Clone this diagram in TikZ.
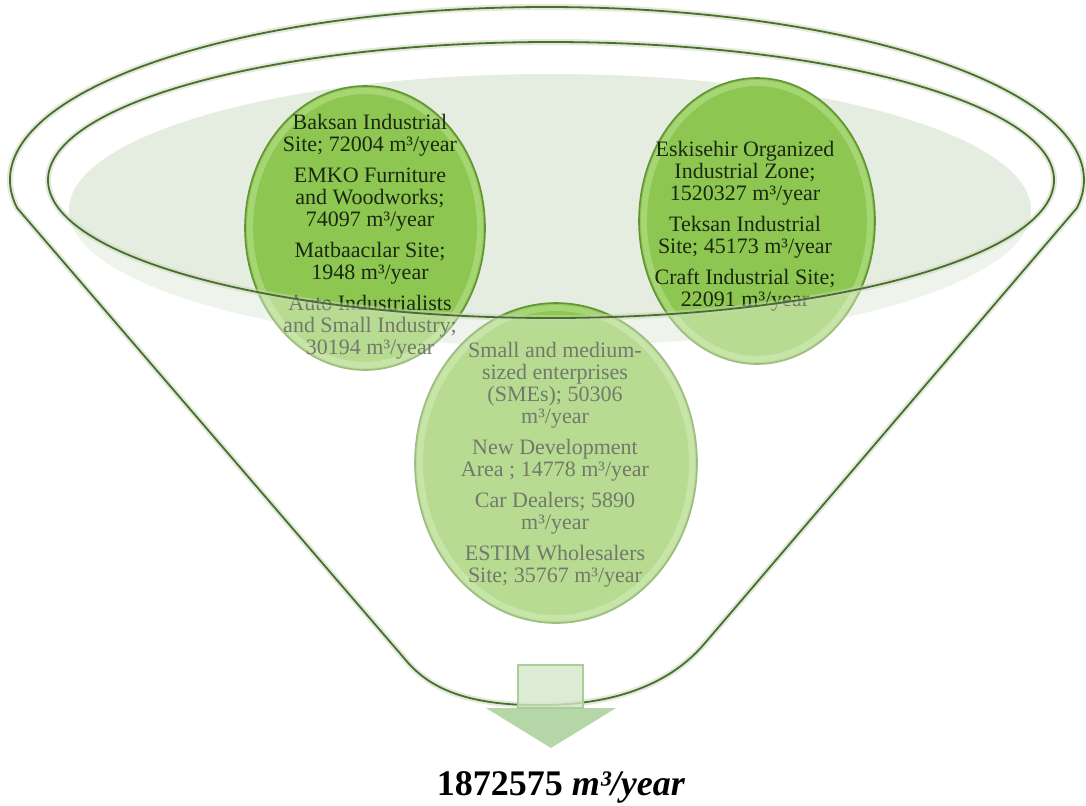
\documentclass[tikz,border=0pt]{standalone}
\usepackage{xcolor}
\usepackage{fontspec}
\usepackage{tikz}
\setmainfont{Liberation Serif}
\usetikzlibrary{shapes.geometric}
\definecolor{circfill}{RGB}{141,198,80}
\definecolor{circrim}{RGB}{178,222,130}
\definecolor{circedge}{RGB}{96,148,52}
\definecolor{shadefill}{RGB}{229,237,224}
\definecolor{funnelline}{RGB}{72,112,40}
\definecolor{txtdark}{RGB}{28,40,18}
\definecolor{shaftfill}{RGB}{212,230,200}
\definecolor{headfill}{RGB}{168,207,150}
\newcommand{\funnelpath}{(547,180) ++(189.3:268.5pt and 86.5pt)
    arc[start angle=189.3, end angle=-9.3, x radius=268.5pt, y radius=86.5pt]
    -- (705,643) .. controls (683,669) and (640,703) .. (548,705)
    .. controls (460,707) and (425,684) .. (404,658) -- cycle}

\begin{document}
\begin{tikzpicture}[x=0.5pt, y=-0.5pt,
    blob/.style={ellipse, draw=circedge, line width=0.8pt, fill=circfill, inner sep=0pt},
    rim/.style={draw=circrim, line width=3pt, opacity=0.7},
    txt/.style={align=center, text=txtdark, font=\fontsize{11}{11}\selectfont},
    fline/.style={draw=funnelline, line width=0.9pt},
    glow/.style={draw=funnelline!30, line width=3pt, opacity=0.5}]
    \useasboundingbox (0,0) rectangle (1086,805);
    \fill[white] \funnelpath;
    \fill[shadefill] (550,210) ellipse [x radius=240.5pt, y radius=68pt];

    \node[blob, minimum width=141pt, minimum height=160pt] (bc) at (556,463) {};
    \node[blob, minimum width=120pt, minimum height=142pt] (lc) at (365,228) {};
    \node[blob, minimum width=118pt, minimum height=143pt] (rc) at (757,221) {};
    \draw[rim] (bc.center) ellipse [x radius=68pt, y radius=77.5pt];
    \draw[rim] (lc.center) ellipse [x radius=57.5pt, y radius=68.5pt];
    \draw[rim] (rc.center) ellipse [x radius=56.5pt, y radius=69pt];

    \node[txt] (lt) at (370,237) {Baksan Industrial\\Site; 72004 m³/year\\[4.5pt]
        EMKO Furniture\\and Woodworks;\\74097 m³/year\\[4.5pt]
        Matbaacılar Site;\\1948 m³/year\\[4.5pt]
        Auto Industrialists\\and Small Industry;\\30194 m³/year};
    \node[txt] (rt) at (745,226) {Eskisehir Organized\\Industrial Zone;\\1520327 m³/year\\[4.5pt]
        Teksan Industrial\\Site; 45173 m³/year\\[4.5pt]
        Craft Industrial Site;\\22091 m³/year};
    \node[txt] (bt) at (555,465) {Small and medium-\\sized enterprises\\(SMEs); 50306\\m³/year\\[4.5pt]
        New Development\\Area ; 14778 m³/year\\[4.5pt]
        Car Dealers; 5890\\m³/year\\[4.5pt]
        ESTIM Wholesalers\\Site; 35767 m³/year};

    \fill[white, opacity=0.38, even odd rule] \funnelpath
        (551,180) ellipse [x radius=251.5pt, y radius=69pt];
    \draw[glow] \funnelpath;
    \draw[fline] \funnelpath;
    \draw[glow] (551,180) ellipse [x radius=251.5pt, y radius=69pt];
    \draw[fline] (551,180) ellipse [x radius=251.5pt, y radius=69pt];

    \fill[shaftfill, opacity=0.8] (518,665) rectangle (583,708);
    \draw[headfill, line width=0.6pt] (518,665) rectangle (583,708);
    \fill[headfill, opacity=0.85] (486,708) -- (616,708) -- (551,748) -- cycle;

    \node[anchor=base, font=\fontsize{18}{18}\selectfont\bfseries] (tot) at (561,795)
        {1872575 \textit{m³/year}};
\end{tikzpicture}
\end{document}
